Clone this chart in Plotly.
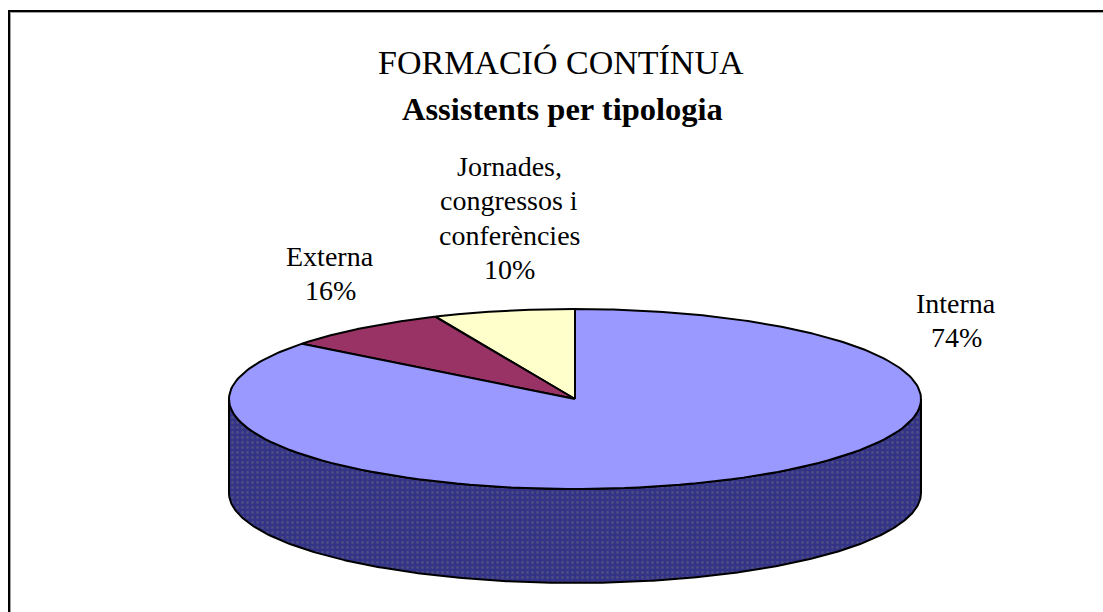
import numpy as np
import plotly.graph_objects as go

# Data
categories = ["Interna", "Externa", "Jornades, congressos i conferències"]
shares = [74, 16, 10]
label_lines = [["Interna", "74%"], ["Externa", "16%"],
               ["Jornades,", "congressos i", "conferències", "10%"]]
title_main = "FORMACIÓ CONTÍNUA"
title_sub = "Assistents per tipologia"

# Colours
slice_colors = ["#9999FF", "#993366", "#FFFFCC"]
side_color = "#333388"

# Projection of the tilted pie on to the page
CX, CY, RX, RY, DEPTH = 575, 399, 346, 90, 94
FORESHORT_1, FORESHORT_2 = 0.70, 0.2076


def warp(t):
    # Excel's 3-D perspective compresses the angles near the back of the pie
    return t - FORESHORT_1 * np.sin(t) + FORESHORT_2 * np.sin(2 * t)


def project(t):
    # t measured from 12 o'clock, counter-clockwise positive to the left
    a = warp(t)
    return CX - RX * np.sin(a), CY - RY * np.cos(a)


# Slices run counter-clockwise from 12 o'clock, starting with the smallest
ordered = list(zip(shares, slice_colors, categories))[::-1]

fig = go.Figure()

# Side wall: drawn first, lower half of the ellipse extruded downwards
a = np.linspace(np.pi / 2, 3 * np.pi / 2, 361)
top_x, top_y = CX - RX * np.sin(a), CY - RY * np.cos(a)
fig.add_trace(go.Scatter(
    x=np.r_[top_x, top_x[::-1], top_x[0]],
    y=np.r_[top_y, top_y[::-1] + DEPTH, top_y[0]],
    mode="lines", fill="toself", hoverinfo="skip", showlegend=False,
    line=dict(color="#000000", width=2),
    fillcolor=side_color,
    fillpattern=dict(shape=".", fgcolor="#66667A", bgcolor=side_color,
                     size=5, solidity=0.25),
))

# Top faces
start = 0.0
total = sum(shares)
for value, color, name in ordered:
    end = start + 2 * np.pi * value / total
    t = np.linspace(start, end, 240)
    ex, ey = project(t)
    fig.add_trace(go.Scatter(
        x=np.r_[CX, ex, CX], y=np.r_[CY, ey, CY],
        mode="lines", fill="toself", fillcolor=color, name=name,
        line=dict(color="#000000", width=2), showlegend=False,
        hoverinfo="name",
    ))
    start = end

FONT = "Liberation Serif"
ann = [
    dict(x=561, y=62, text=title_main, font=dict(size=34, family=FONT, color="#000000")),
    dict(x=562, y=109, text=f"<b>{title_sub}</b>", font=dict(size=32.5, family=FONT, color="#000000")),
]
LABEL_POS = [(956, 303), (330, 256), (509, 166)]
LINE_STEP = 34.5
for (lx, ly), lines in zip(LABEL_POS, label_lines):
    for i, line in enumerate(lines):
        ann.append(dict(x=lx, y=ly + i * LINE_STEP, text=line,
                        font=dict(size=28, family=FONT, color="#000000")))

fig.update_layout(
    width=1103, height=612, margin=dict(l=0, r=0, t=0, b=0),
    paper_bgcolor="#FFFFFF", plot_bgcolor="#FFFFFF", showlegend=False,
    xaxis=dict(range=[0, 1103], visible=False, fixedrange=True),
    yaxis=dict(range=[612, 0], visible=False, fixedrange=True),
    annotations=[dict(a, showarrow=False, xref="x", yref="y", align="center") for a in ann],
    shapes=[
        dict(type="line", x0=10.5, x1=10.5, y0=12, y1=612, line=dict(color="#A0A0A0", width=1)),
        dict(type="line", x0=10, x1=1103, y0=12.5, y1=12.5, line=dict(color="#A0A0A0", width=1)),
        dict(type="line", x0=9, x1=9, y0=10, y1=612, line=dict(color="#000000", width=2)),
        dict(type="line", x0=8, x1=1103, y0=11, y1=11, line=dict(color="#000000", width=2)),
    ],
)

fig.write_html("out.html", config=dict(displayModeBar=False),
               post_script="document.body.style.margin='0';document.body.style.overflow='hidden';")
